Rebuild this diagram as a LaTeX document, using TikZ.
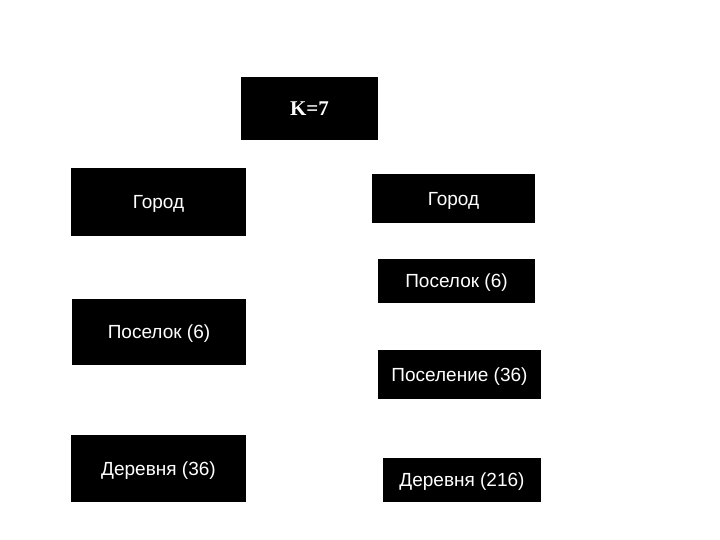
\documentclass[tikz,border=0pt]{standalone}
\usepackage{fontspec}
\setmainfont{Liberation Sans}
\newfontfamily\kserif{Liberation Serif}
\begin{document}
\begin{tikzpicture}[x=1pt,y=-1pt,
  blk/.style={fill=black,text=white,inner sep=0pt,text depth=0pt,font=\fontsize{19}{22}\selectfont},
  ktitle/.style={blk,font=\kserif\bfseries\fontsize{21}{25}\selectfont}]
\useasboundingbox[fill=white] (0,0) rectangle (720,540);
\node[ktitle,minimum width=137,minimum height=63] (k) at (309.5,108.5) {K=7};
\node[blk,minimum width=175,minimum height=68] (g1) at (158.5,202) {Город};
\node[blk,minimum width=163,minimum height=49] (g2) at (453.5,198.5) {Город};
\node[blk,minimum width=157,minimum height=44] (p2) at (456.5,281) {Поселок (6)};
\node[blk,minimum width=174,minimum height=66] (p1) at (159,332) {Поселок (6)};
\node[blk,minimum width=163,minimum height=49] (s2) at (459.5,374.5) {Поселение (36)};
\node[blk,minimum width=175,minimum height=67] (d1) at (158.5,468.5) {Деревня (36)};
\node[blk,minimum width=158,minimum height=44] (d2) at (462,480) {Деревня (216)};
\end{tikzpicture}
\end{document}
